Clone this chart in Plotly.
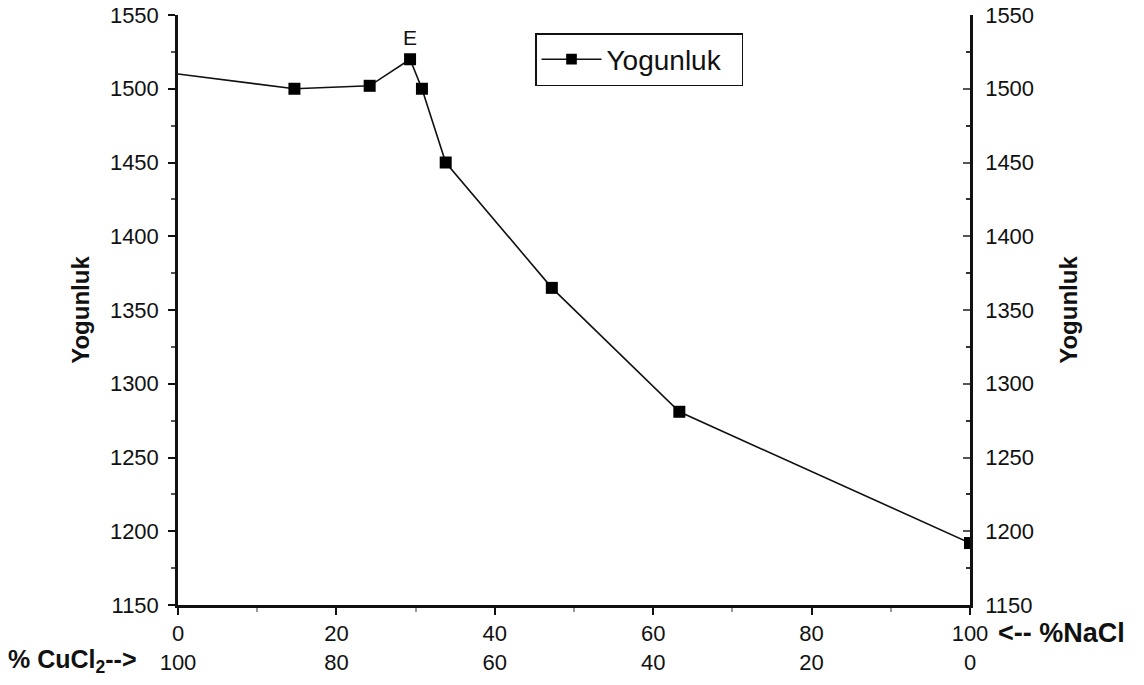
import plotly.graph_objects as go

# Data
cucl2_pct = [0, 14.7, 24.2, 29.3, 30.8, 33.8, 47.2, 63.3, 100]
yogunluk = [1510, 1500, 1502, 1520, 1500, 1450, 1365, 1281, 1192]
marker_sizes = [0, 12, 12, 12, 12, 12, 12, 12, 12]

x_ticks = [0, 20, 40, 60, 80, 100]
x_ticks_top = ["0", "20", "40", "60", "80", "100"]
x_ticks_bottom = ["100", "80", "60", "40", "20", "0"]
y_ticks = [1150, 1200, 1250, 1300, 1350, 1400, 1450, 1500, 1550]

font_family = "Liberation Sans, Arial, sans-serif"

fig = go.Figure()
fig.add_trace(go.Scatter(
    x=cucl2_pct, y=yogunluk, mode="lines+markers", name="Yogunluk\u00a0\u00a0",
    line=dict(color="#111111", width=1.6),
    marker=dict(symbol="square", size=marker_sizes, color="#000000", opacity=1,
                line=dict(color="#000000", width=0)),
))
# invisible trace for right axis
fig.add_trace(go.Scatter(
    x=cucl2_pct, y=yogunluk, yaxis="y2", mode="lines",
    line=dict(color="rgba(0,0,0,0)"), showlegend=False, hoverinfo="skip",
))

ticktext = [f"{a}<br>{b}" for a, b in zip(x_ticks_top, x_ticks_bottom)]

fig.update_layout(
    width=1144, height=685,
    margin=dict(l=178, r=174, t=15, b=80),
    paper_bgcolor="white", plot_bgcolor="white",
    font=dict(family=font_family, color="#111111", size=22),
    showlegend=True,
    legend=dict(
        x=(535 - 178) / 792, y=(605 - 33) / 590, xanchor="left", yanchor="top",
        bordercolor="#111111", borderwidth=1.5, bgcolor="white",
        font=dict(size=28, family=font_family), itemwidth=60,
    ),
    xaxis=dict(
        range=[0, 100], tickvals=x_ticks, ticktext=ticktext, automargin=False,
        showline=True, linecolor="#111111", linewidth=2.5,
        ticks="outside", ticklen=7, tickwidth=2, tickcolor="#111111",
        minor=dict(tickvals=[10, 30, 50, 70, 90], ticks="outside", ticklen=4, tickcolor="#999999"),
        showgrid=False, zeroline=False, tickfont=dict(size=22), ticklabelstandoff=0,
    ),
    yaxis=dict(
        range=[1150, 1550], tickvals=y_ticks, automargin=False,
        showline=True, linecolor="#111111", linewidth=2.5,
        ticks="outside", ticklen=7, tickwidth=2, tickcolor="#111111",
        minor=dict(dtick=25, ticks="outside", ticklen=4, tickcolor="#555555"),
        showgrid=False, zeroline=False, tickfont=dict(size=22), ticklabelstandoff=5,
        title=dict(text="<b>Yogunluk</b>", font=dict(size=24), standoff=14),
    ),
    yaxis2=dict(
        range=[1150, 1550], tickvals=y_ticks, overlaying="y", side="right", automargin=False,
        showline=True, linecolor="#111111", linewidth=2.5,
        ticks="inside", ticklen=7, tickwidth=2, tickcolor="#555555",
        minor=dict(dtick=25, ticks="inside", ticklen=4, tickcolor="#333333"),
        showgrid=False, zeroline=False, tickfont=dict(size=22), ticklabelstandoff=8,
        title=dict(text="<b>Yogunluk</b>", font=dict(size=24), standoff=28),
    ),
    annotations=[
        dict(x=29.3, y=1520, xref="x", yref="y", text="E", showarrow=False,
             yshift=22, font=dict(size=21)),
        dict(x=(6 - 178) / 792, y=(605 - 661) / 590, xref="paper", yref="paper",
             text="<b>% CuCl<sub>2</sub>--></b>", showarrow=False,
             xanchor="left", yanchor="middle", font=dict(size=25)),
        dict(x=(996 - 178) / 792, y=(605 - 633) / 590, xref="paper", yref="paper",
             text="<b><-- %NaCl</b>", showarrow=False,
             xanchor="left", yanchor="middle", font=dict(size=27)),
    ],
)

fig.write_html("out.html")
